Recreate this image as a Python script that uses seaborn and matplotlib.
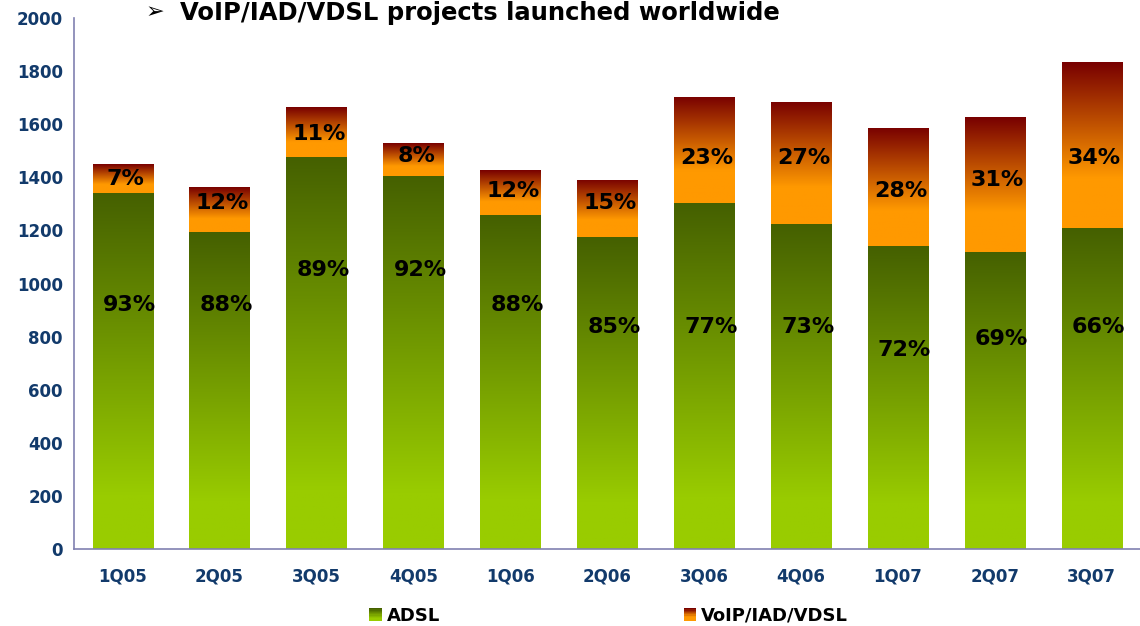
import numpy as np
import pandas as pd
import matplotlib
import matplotlib.pyplot as plt
import seaborn as sns
from matplotlib.colors import LinearSegmentedColormap
from matplotlib.legend_handler import HandlerBase
from matplotlib.patches import Rectangle

# data
quarters = ['1Q05', '2Q05', '3Q05', '4Q05', '1Q06', '2Q06', '3Q06', '4Q06', '1Q07', '2Q07', '3Q07']
adsl = [1342, 1194, 1478, 1406, 1258, 1175, 1303, 1224, 1141, 1119, 1209]
voip = [108, 169, 187, 123, 169, 215, 401, 460, 445, 508, 625]
adsl_pct = ['93%', '88%', '89%', '92%', '88%', '85%', '77%', '73%', '72%', '69%', '66%']
voip_pct = ['7%', '12%', '11%', '8%', '12%', '15%', '23%', '27%', '28%', '31%', '34%']
# where the labels sit (y in data units)
adsl_label_y = [920, 920, 1050, 1050, 920, 835, 835, 835, 750, 790, 835]
voip_label_y = [1395, 1305, 1565, 1480, 1350, 1305, 1475, 1475, 1350, 1390, 1475]

df = pd.DataFrame({'quarter': quarters, 'adsl': adsl, 'voip': voip})
df['total'] = df['adsl'] + df['voip']

green_cmap = LinearSegmentedColormap.from_list(
    'g', [(0, '#99cc00'), (0.15, '#99cc00'), (1, '#456000')])
orange_cmap = LinearSegmentedColormap.from_list(
    'o', [(0, '#ff9900'), (0.3, '#ff9900'), (1, '#780000')])
navy = '#123a6b'
axis_col = '#8080b0'

sns.set_style('white')
plt.rcParams['font.family'] = ['DejaVu Sans']
plt.rcParams['text.color'] = 'black'

fig = plt.figure(figsize=(11.4, 6.26), dpi=100)
ax = fig.add_axes([0.065, 0.123, 0.935, 0.848])

sns.barplot(data=df, x='quarter', y='total', color='#ff9900', width=0.62, ax=ax)
sns.barplot(data=df, x='quarter', y='adsl', color='#99cc00', width=0.62, ax=ax)

grad = np.linspace(0, 1, 256).reshape(-1, 1)
n = len(quarters)
for i, p in enumerate(ax.patches):
    cmap = orange_cmap if i < n else green_cmap
    x0, y0 = p.get_x(), p.get_y()
    w, h = p.get_width(), p.get_height()
    if i < n:
        # orange part only visible above adsl; gradient over that part
        y0 = adsl[i]
        h = p.get_height() - adsl[i]
    im = ax.imshow(grad, cmap=cmap, origin='lower', aspect='auto',
                   extent=(x0, x0 + w, y0, y0 + h), zorder=p.get_zorder() + 0.01 * i)
    im.set_clip_path(p)
    p.set_facecolor('none')
    p.set_edgecolor('none')

for i in range(n):
    ax.text(i + 0.07, adsl_label_y[i], adsl_pct[i], ha='center', va='center',
            fontsize=16, fontweight='bold', color='black', zorder=10)
    ax.text(i + 0.03, voip_label_y[i], voip_pct[i], ha='center', va='center',
            fontsize=16, fontweight='bold', color='black', zorder=10)

ax.set_xlim(-0.5, n - 0.5)
ax.set_ylim(0, 2000)
ax.set_yticks(range(0, 2001, 200))
ax.set_xticks(range(n))
ax.set_xticks(np.arange(0.5, n - 1, 1), minor=True)
ax.set_xticklabels(quarters)
ax.set_xlabel('')
ax.set_ylabel('')
ax.tick_params(axis='y', direction='in', length=6, color=axis_col, labelsize=12,
               labelcolor=navy, pad=8)
ax.tick_params(axis='x', which='major', length=0, labelsize=12, labelcolor=navy, pad=13)
ax.tick_params(axis='x', which='minor', direction='in', length=6, color=axis_col)
for lbl in ax.get_xticklabels() + ax.get_yticklabels():
    lbl.set_fontweight('bold')
for s in ['top', 'right']:
    ax.spines[s].set_visible(False)
for s in ['left', 'bottom']:
    ax.spines[s].set_color(axis_col)
    ax.spines[s].set_linewidth(1.2)


class GradientHandler(HandlerBase):
    def __init__(self, cmap):
        super().__init__()
        self.cmap = cmap

    def create_artists(self, legend, orig_handle, xdescent, ydescent,
                       width, height, fontsize, trans):
        side = min(width, height)
        steps = 10
        arts = []
        for k in range(steps):
            c = self.cmap(1 - k / (steps - 1))
            r = Rectangle((width - side, side * (1 - (k + 1) / steps)), side, side / steps,
                          facecolor=c, edgecolor='none', transform=trans)
            arts.append(r)
        return arts


h1 = Rectangle((0, 0), 1, 1)
h2 = Rectangle((0, 0), 1, 1)
leg = fig.legend([h1, h2], ['ADSL', 'VoIP/IAD/VDSL'], loc='lower left',
                 bbox_to_anchor=(0.305, -0.024), ncol=2, frameon=False,
                 handler_map={h1: GradientHandler(green_cmap), h2: GradientHandler(orange_cmap)},
                 prop={'weight': 'bold', 'size': 13}, columnspacing=13.2,
                 handlelength=1.0, handletextpad=0.25)

fig.text(0.128, 0.98, '\u27a2', fontsize=16, va='center', ha='left')
fig.text(0.158, 0.98, 'VoIP/IAD/VDSL projects launched worldwide', fontsize=17.5,
         fontweight='bold', va='center', ha='left', color='black')

fig.savefig('out.png', dpi=100)
